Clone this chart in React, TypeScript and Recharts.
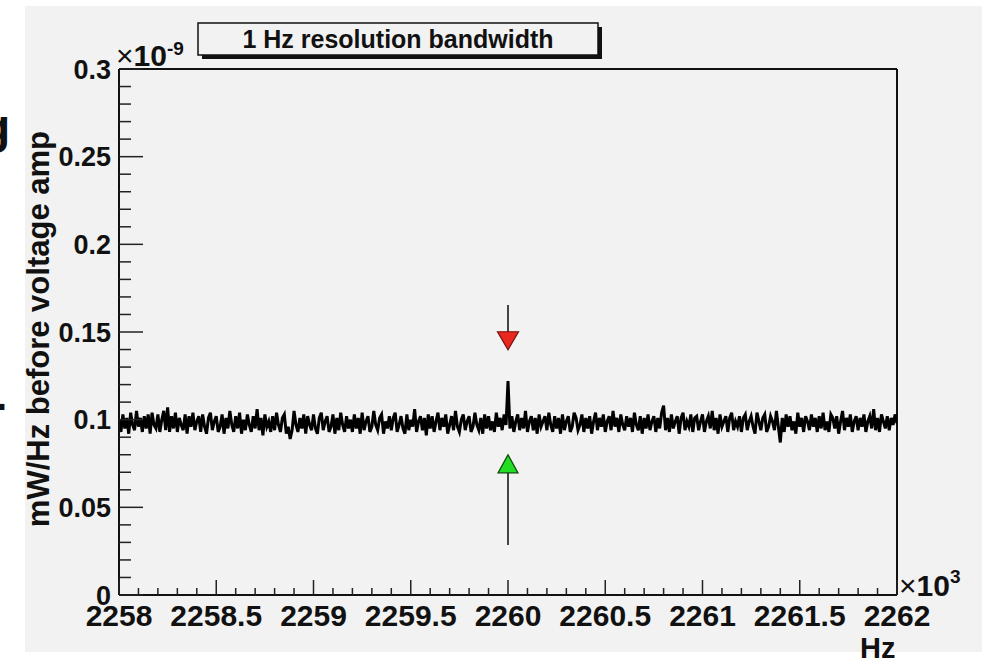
import { ComposedChart, Line, Scatter, XAxis, YAxis, ReferenceLine } from 'recharts';

// noise floor, one value per 0.01 Hz bin (units of 1e-12 mW/Hz, i.e. thousandths of 1e-9)
const binStart = 2258;
const binWidth = 0.01;
const noiseMilli = [
  100, 93, 103, 95, 101, 92, 104, 97, 94, 105, 96, 101, 93, 102, 95, 103, 92, 104, 97, 95,
  103, 93, 100, 105, 94, 107, 93, 102, 95, 104, 93, 101, 97, 94, 103, 92, 102, 96, 104, 94,
  99, 102, 93, 103, 96, 92, 101, 104, 94, 99, 102, 93, 96, 103, 92, 101, 95, 105, 97, 93,
  102, 95, 104, 92, 100, 94, 103, 97, 93, 102, 95, 106, 94, 101, 91, 103, 96, 99, 93, 102,
  94, 104, 97, 93, 101, 103, 92, 96, 89, 94, 105, 97, 93, 101, 95, 103, 92, 102, 97, 94,
  103, 95, 92, 101, 104, 94, 99, 102, 93, 96, 103, 92, 101, 94, 104, 97, 93, 102, 95, 100,
  93, 103, 95, 101, 92, 104, 94, 99, 102, 93, 96, 105, 97, 94, 101, 103, 92, 99, 95, 102,
  94, 101, 104, 93, 97, 102, 95, 92, 103, 94, 100, 96, 106, 93, 99, 102, 94, 101, 91, 103,
  95, 102, 93, 99, 104, 94, 101, 96, 103, 92, 97, 102, 94, 105, 96, 93, 100, 103, 94, 99,
  102, 93, 96, 104, 97, 94, 101, 92, 103, 95, 102, 94, 99, 93, 104, 96, 101, 94, 103, 97,
  122, 95, 102, 93, 99, 103, 94, 101, 95, 105, 93, 99, 102, 94, 101, 92, 103, 96, 99, 102,
  94, 104, 97, 93, 102, 95, 101, 92, 103, 94, 99, 102, 93, 96, 104, 101, 94, 97, 103, 93,
  101, 95, 102, 92, 99, 104, 94, 101, 96, 103, 93, 99, 102, 94, 105, 96, 101, 93, 103, 97,
  94, 102, 96, 101, 93, 104, 97, 94, 102, 92, 101, 95, 103, 94, 99, 102, 93, 101, 95, 104,
  108, 94, 101, 93, 103, 95, 99, 102, 92, 101, 104, 94, 99, 96, 103, 93, 101, 102, 94, 99,
  103, 93, 99, 102, 95, 105, 94, 101, 92, 103, 96, 99, 102, 93, 101, 104, 94, 99, 96, 102,
  93, 101, 103, 94, 99, 102, 96, 92, 104, 99, 94, 101, 103, 93, 96, 102, 99, 94, 105, 96,
  87, 101, 93, 103, 96, 102, 94, 99, 92, 104, 96, 101, 93, 102, 99, 94, 103, 96, 101, 93,
  102, 95, 104, 94, 99, 93, 103, 101, 95, 102, 92, 99, 105, 94, 101, 96, 103, 93, 99, 102,
  94, 101, 96, 103, 93, 99, 102, 95, 106, 94, 101, 93, 103, 99, 95, 102, 94, 101, 97, 103,
  98,
];

const xTicks = [
  2258, 2258.1, 2258.2, 2258.3, 2258.4, 2258.5, 2258.6, 2258.7, 2258.8, 2258.9,
  2259, 2259.1, 2259.2, 2259.3, 2259.4, 2259.5, 2259.6, 2259.7, 2259.8, 2259.9,
  2260, 2260.1, 2260.2, 2260.3, 2260.4, 2260.5, 2260.6, 2260.7, 2260.8, 2260.9,
  2261, 2261.1, 2261.2, 2261.3, 2261.4, 2261.5, 2261.6, 2261.7, 2261.8, 2261.9, 2262,
];
const xMajor = [2258, 2258.5, 2259, 2259.5, 2260, 2260.5, 2261, 2261.5, 2262];

const yTicks = [
  0, 0.01, 0.02, 0.03, 0.04, 0.05, 0.06, 0.07, 0.08, 0.09, 0.1,
  0.11, 0.12, 0.13, 0.14, 0.15, 0.16, 0.17, 0.18, 0.19, 0.2,
  0.21, 0.22, 0.23, 0.24, 0.25, 0.26, 0.27, 0.28, 0.29, 0.3,
];
const yMajor = [0, 0.05, 0.1, 0.15, 0.2, 0.25, 0.3];

const peakFreq = 2260;
const upperArrow = [{ x: 2260, y: 0.145 }];
const upperStem = [0.1654, 0.15];
const lowerArrow = [{ x: 2260, y: 0.0748 }];
const lowerStem = [0.0696, 0.0285];

const noiseData = noiseMilli.map((v, i) => ({ x: binStart + i * binWidth, y: v / 1000 }));

const FONT = '"Liberation Sans", Arial, Helvetica, sans-serif';
const BG = '#f2f2f2';

function XTick({ x, y, payload }: any) {
  const v = payload.value;
  const major = xMajor.includes(v);
  return (
    <g>
      <line x1={x} x2={x} y1={y} y2={y - (major ? 15 : 7)} stroke="#222" strokeWidth={1.5} />
      {major && (
        <text x={x} y={y + 31} textAnchor="middle" fontSize={30} fontWeight="bold" fontFamily={FONT} fill="#111">
          {String(v)}
        </text>
      )}
    </g>
  );
}

function YTick({ x, y, payload }: any) {
  const v = payload.value;
  const major = yMajor.includes(v);
  return (
    <g>
      <line x1={x} x2={x + (major ? 24 : 12)} y1={y} y2={y} stroke="#222" strokeWidth={1.5} />
      {major && (
        <text x={x - 8} y={y} dy="0.36em" textAnchor="end" fontSize={27} fontWeight="bold" fontFamily={FONT} fill="#111">
          {String(v)}
        </text>
      )}
    </g>
  );
}

const downTriangle = (p: any) => (
  <polygon
    points={`${p.cx - 10.5},${p.cy - 9} ${p.cx + 10.5},${p.cy - 9} ${p.cx},${p.cy + 9}`}
    fill="#e8281e"
    stroke="#7a1010"
    strokeWidth={1.2}
  />
);

const upTriangle = (p: any) => (
  <polygon
    points={`${p.cx - 10},${p.cy + 9} ${p.cx + 10},${p.cy + 9} ${p.cx},${p.cy - 9}`}
    fill="#22dd22"
    stroke="#0b4a0b"
    strokeWidth={1.2}
  />
);

export default function App() {
  return (
    <div style={{ position: 'absolute', left: 0, top: 0, width: 982, height: 659, background: '#fff', overflow: 'hidden' }}>
      <div style={{ position: 'absolute', left: 25, top: 6, width: 957, height: 646, background: BG }} />
      <div style={{ position: 'absolute', left: 0, top: 0 }}>
        <ComposedChart width={982} height={659} margin={{ top: 69, right: 85, bottom: 4, left: 59 }}>
          <XAxis
            dataKey="x"
            type="number"
            domain={[2258, 2262]}
            ticks={xTicks}
            interval={0}
            tick={<XTick />}
            tickLine={false}
            tickSize={0}
            tickMargin={0}
            height={60}
            axisLine={{ stroke: '#111', strokeWidth: 2 }}
            allowDataOverflow
          />
          <YAxis
            dataKey="y"
            type="number"
            domain={[0, 0.3]}
            ticks={yTicks}
            interval={0}
            tick={<YTick />}
            tickLine={false}
            tickSize={0}
            tickMargin={0}
            width={60}
            axisLine={{ stroke: '#111', strokeWidth: 2 }}
            allowDataOverflow
          />
          <ReferenceLine y={0.3} stroke="#111" strokeWidth={2} />
          <ReferenceLine x={2262} stroke="#111" strokeWidth={2} />
          <Line
            data={noiseData}
            dataKey="y"
            type="linear"
            stroke="#000"
            strokeWidth={3}
            strokeLinejoin="miter"
            dot={false}
            isAnimationActive={false}
          />
          <ReferenceLine
            segment={[{ x: peakFreq, y: upperStem[0] }, { x: peakFreq, y: upperStem[1] }]}
            stroke="#444"
            strokeWidth={2}
          />
          <ReferenceLine
            segment={[{ x: peakFreq, y: lowerStem[0] }, { x: peakFreq, y: lowerStem[1] }]}
            stroke="#444"
            strokeWidth={2}
          />
          <Scatter data={upperArrow} dataKey="y" shape={downTriangle} isAnimationActive={false} />
          <Scatter data={lowerArrow} dataKey="y" shape={upTriangle} isAnimationActive={false} />
        </ComposedChart>
      </div>
      <svg width={982} height={659} style={{ position: 'absolute', left: 0, top: 0, pointerEvents: 'none' }} fontFamily={FONT}>
        <rect x={202} y={27} width={400} height={32} fill="#111" />
        <rect x={198} y={23} width={400} height={32} fill={BG} stroke="#111" strokeWidth={1.5} />
        <text x={398} y={48} textAnchor="middle" fontSize={25} fontWeight="bold" fill="#111">
          1 Hz resolution bandwidth
        </text>
        <text x={116} y={66} fontSize={30} fill="#111">
          ×<tspan fontWeight="bold">10</tspan>
          <tspan fontSize={19} fontWeight="bold" dy={-11}>-9</tspan>
        </text>
        <text x={899} y={596} fontSize={30} fill="#111">
          ×<tspan fontWeight="bold">10</tspan>
          <tspan fontSize={19} fontWeight="bold" dy={-13}>3</tspan>
        </text>
        <text x={860} y={658} fontSize={29} fontWeight="bold" fill="#111">
          Hz
        </text>
        <text transform="translate(49,131) rotate(-90)" textAnchor="end" fontSize={31} fontWeight="bold" fill="#111">
          mW/Hz before voltage amp
        </text>
        <text x={-19} y={143} fontSize={48} fontWeight="bold" fill="#111">
          g
        </text>
        <text x={-4} y={410} fontSize={40} fontWeight="bold" fill="#111">
          .
        </text>
      </svg>
    </div>
  );
}
